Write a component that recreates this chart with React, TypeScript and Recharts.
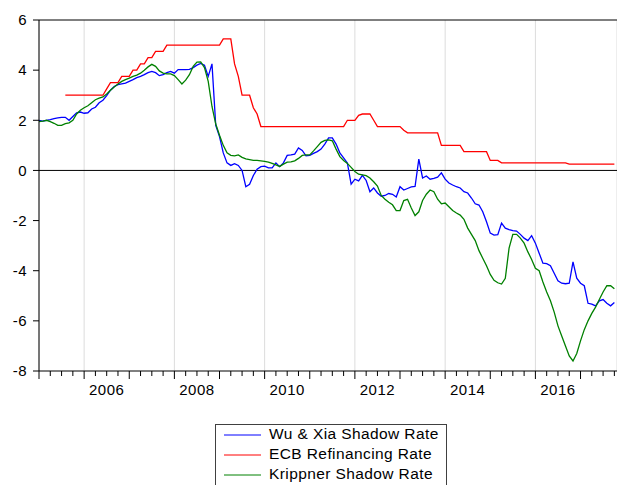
import React from "react";
import { LineChart, Line, XAxis, YAxis, CartesianGrid, ReferenceLine } from "recharts";

// monthly observations, month 0 = January 2005
const startYear = 2005;

const wuXia = [
  2.0, 1.97, 2.0, 2.03, 2.07, 2.1, 2.12, 2.12, 2.0, 2.15,
  2.3, 2.33, 2.28, 2.3, 2.45, 2.52, 2.7, 2.8, 2.98, 3.2,
  3.35, 3.42, 3.45, 3.48, 3.55, 3.62, 3.7, 3.75, 3.82, 3.9,
  3.95, 3.9, 3.78, 3.82, 3.9, 3.95, 3.88, 4.02, 4.02, 4.02,
  4.03, 4.1, 4.2, 4.27, 4.2, 3.75, 4.25, 1.8, 1.35, 0.7,
  0.3, 0.2, 0.27, 0.2, 0.0, -0.65, -0.55, -0.2, 0.05, 0.15,
  0.17, 0.1, 0.1, 0.3, 0.15, 0.3, 0.6, 0.62, 0.65, 0.9,
  0.8, 0.58, 0.6, 0.68, 0.75, 0.85, 1.05, 1.3, 1.3, 1.05,
  0.7, 0.5, 0.3, -0.55, -0.35, -0.42, -0.2, -0.4, -0.85, -0.7,
  -0.9, -1.03, -1.0, -0.92, -0.95, -1.06, -0.65, -0.78, -0.72, -0.66,
  -0.64, 0.45, -0.3, -0.22, -0.35, -0.32, -0.27, -0.1, -0.35, -0.5,
  -0.58, -0.65, -0.7, -0.85, -0.9, -1.1, -1.33, -1.38, -1.65, -2.05,
  -2.5, -2.58, -2.56, -2.1, -2.3, -2.36, -2.4, -2.42, -2.55, -2.7,
  -2.8, -2.6, -2.9, -3.3, -3.7, -3.72, -3.8, -4.1, -4.4, -4.5,
  -4.52, -4.5, -3.65, -4.3, -4.5, -4.6, -5.3, -5.33, -5.4, -5.2,
  -5.15, -5.3, -5.4, -5.27,
];

const ecbRate = [
  null, null, null, null, null, null, null, 3.0, 3.0, 3.0,
  3.0, 3.0, 3.0, 3.0, 3.0, 3.0, 3.0, 3.0, 3.25, 3.5,
  3.5, 3.5, 3.75, 3.75, 3.75, 4.0, 4.0, 4.25, 4.25, 4.5,
  4.5, 4.75, 4.75, 4.75, 5.0, 5.0, 5.0, 5.0, 5.0, 5.0,
  5.0, 5.0, 5.0, 5.0, 5.0, 5.0, 5.0, 5.0, 5.0, 5.25,
  5.25, 5.25, 4.25, 3.75, 3.0, 3.0, 3.0, 2.5, 2.25, 1.75,
  1.75, 1.75, 1.75, 1.75, 1.75, 1.75, 1.75, 1.75, 1.75, 1.75,
  1.75, 1.75, 1.75, 1.75, 1.75, 1.75, 1.75, 1.75, 1.75, 1.75,
  1.75, 1.75, 2.0, 2.0, 2.0, 2.2, 2.25, 2.25, 2.25, 2.0,
  1.75, 1.75, 1.75, 1.75, 1.75, 1.75, 1.75, 1.6, 1.5, 1.5,
  1.5, 1.5, 1.5, 1.5, 1.5, 1.5, 1.5, 1.0, 1.0, 1.0,
  1.0, 1.0, 1.0, 0.75, 0.75, 0.75, 0.75, 0.75, 0.75, 0.75,
  0.4, 0.4, 0.4, 0.3, 0.3, 0.3, 0.3, 0.3, 0.3, 0.3,
  0.3, 0.3, 0.3, 0.3, 0.3, 0.3, 0.3, 0.3, 0.3, 0.3,
  0.3, 0.25, 0.25, 0.25, 0.25, 0.25, 0.25, 0.25, 0.25, 0.25,
  0.25, 0.25, 0.25, 0.25,
];

const krippner = [
  1.95, 1.97, 2.0, 1.95, 1.88, 1.8, 1.8, 1.87, 1.9, 2.0,
  2.25, 2.4, 2.5, 2.58, 2.7, 2.82, 2.88, 2.93, 3.05, 3.2,
  3.33, 3.45, 3.55, 3.62, 3.68, 3.75, 3.8, 3.88, 4.0, 4.13,
  4.23, 4.15, 3.97, 3.88, 3.85, 3.85, 3.78, 3.62, 3.45, 3.6,
  3.82, 4.15, 4.32, 4.33, 4.1, 3.55, 2.55, 1.85, 1.4, 1.0,
  0.7, 0.6, 0.58, 0.62, 0.52, 0.46, 0.43, 0.4, 0.4, 0.38,
  0.36, 0.33, 0.28, 0.22, 0.16, 0.25, 0.33, 0.34, 0.38, 0.48,
  0.6, 0.62, 0.62, 0.78, 0.95, 1.12, 1.2, 1.22, 1.18, 0.85,
  0.55, 0.4, 0.28, 0.12, -0.04, -0.15, -0.18, -0.21, -0.3, -0.45,
  -0.62, -1.0, -1.15, -1.27, -1.37, -1.6, -1.6, -1.2, -1.15, -1.5,
  -1.8, -1.65, -1.2, -0.95, -0.78, -0.85, -1.15, -1.33, -1.3, -1.45,
  -1.6, -1.7, -1.78, -1.95, -2.3, -2.55, -2.8, -3.2, -3.5, -3.8,
  -4.15, -4.38, -4.48, -4.53, -4.3, -3.1, -2.55, -2.55, -2.7, -2.9,
  -3.25, -3.55, -3.9, -4.0, -4.45, -4.85, -5.2, -5.65, -6.2, -6.6,
  -7.0, -7.4, -7.6, -7.3, -6.8, -6.35, -6.0, -5.7, -5.45, -5.15,
  -4.85, -4.6, -4.6, -4.72,
];

const seriesNames = ["Wu & Xia Shadow Rate", "ECB Refinancing Rate", "Krippner Shadow Rate"];
const seriesColors = ["#0000ff", "#ff0000", "#008000"];

const yTicks = [-8, -6, -4, -2, 0, 2, 4, 6];
const labelYears = ["2006", "2008", "2010", "2012", "2014", "2016"];
const gridMonths = [12, 36, 60, 84, 108, 132];
const quarterTicks = Array.from({ length: 52 }, (_, i) => i * 3);

const data = wuXia.map((v, i) => ({
  m: i,
  wuxia: v,
  ecb: ecbRate[i],
  krippner: krippner[i],
}));

const FONT = "'Liberation Sans', Arial, sans-serif";

const MonthTick = (props: any) => {
  const { x, y, payload } = props;
  const m = payload.value;
  const len = m % 12 === 0 ? 8 : 5;
  const label = m % 12 === 6 ? String(startYear + Math.floor(m / 12)) : "";
  const show = labelYears.includes(label);
  return (
    <g>
      <line x1={x} x2={x} y1={y} y2={y + len} stroke="#000" strokeWidth={1} />
      {show && (
        <text x={x} y={y + 24} textAnchor="middle" fontSize={15} letterSpacing={0.5} fontFamily={FONT} fill="#000">
          {label}
        </text>
      )}
    </g>
  );
};

const App = () => {
  return (
    <div style={{ position: "absolute", left: 0, top: 0, width: 617, height: 485, overflow: "hidden", background: "#fff" }}>
      <LineChart width={617} height={485} data={data} margin={{ top: 20, right: 0, bottom: 84, left: 0 }}>
        <XAxis xAxisId="grid" type="number" dataKey="m" domain={[0, 153.7]} ticks={gridMonths} hide />
        <CartesianGrid xAxisId="grid" horizontal={false} stroke="#dcdcdc" strokeWidth={1} />
        <XAxis
          type="number"
          dataKey="m"
          domain={[0, 153.7]}
          ticks={quarterTicks}
          interval={0}
          tickLine={false}
          tickSize={0}
          tickMargin={0}
          height={30}
          axisLine={{ stroke: "#000" }}
          tick={<MonthTick />}
        />
        <YAxis
          type="number"
          domain={[-8, 6]}
          ticks={yTicks}
          interval={0}
          width={39}
          tickSize={6}
          tickMargin={6}
          axisLine={{ stroke: "#000" }}
          tickLine={{ stroke: "#000" }}
          tick={{ fill: "#000", fontSize: 15, fontFamily: FONT, letterSpacing: 0.4 }}
        />
        <ReferenceLine y={6} stroke="#000" strokeWidth={1} />
        <ReferenceLine y={0} stroke="#000" strokeWidth={1} />
        <Line type="linear" dataKey="wuxia" stroke={seriesColors[0]} strokeWidth={1.3} dot={false} isAnimationActive={false} />
        <Line type="linear" dataKey="ecb" stroke={seriesColors[1]} strokeWidth={1.3} dot={false} connectNulls={false} isAnimationActive={false} />
        <Line type="linear" dataKey="krippner" stroke={seriesColors[2]} strokeWidth={1.3} dot={false} isAnimationActive={false} />
      </LineChart>
      <svg style={{ position: "absolute", left: 215, top: 424 }} width={233} height={70}>
        <rect x={0.5} y={0.5} width={231} height={80} fill="#fff" stroke="#404040" strokeWidth={1} />
        {seriesNames.map((name, i) => (
          <g key={name}>
            <line x1={9} x2={46} y1={11 + i * 20} y2={11 + i * 20} stroke={seriesColors[i]} strokeWidth={1} />
            <text x={54} y={15 + i * 20} fontSize={15.5} letterSpacing={0.4} fontFamily={FONT} fill="#000">
              {name}
            </text>
          </g>
        ))}
      </svg>
    </div>
  );
};

export default App;
